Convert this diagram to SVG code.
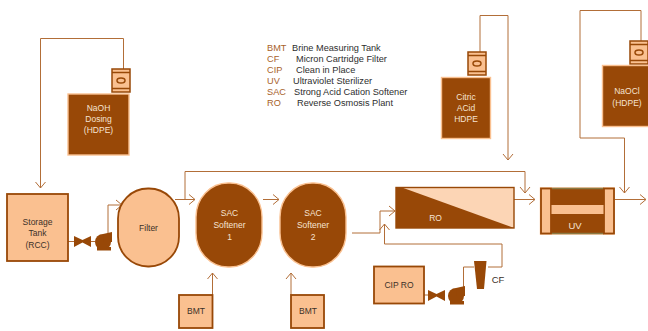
<svg xmlns="http://www.w3.org/2000/svg" width="648" height="331" viewBox="0 0 648 331">
<style>
text{font-family:"Liberation Sans","Open Sans",sans-serif;text-anchor:middle}
.lab{font-size:8.5px;fill:#3b3028}
.wl{font-size:8.5px;fill:#f6e3d2}
.lk{font-size:9.2px;fill:#a8622a;text-anchor:start}
.ld{font-size:9.2px;fill:#2e2e2e;text-anchor:start}
.lt{fill:#fac090;stroke:#984807;stroke-width:1.8}
.dk{fill:#984807;stroke:#fac090;stroke-width:1.4}
.c{fill:none;stroke:#b26e38;stroke-width:1}
.a{fill:none;stroke:#b26e38;stroke-width:1;marker-end:url(#ah)}
.p{fill:#984807}
</style>
<defs>
<marker id="ah" markerUnits="userSpaceOnUse" markerWidth="12" markerHeight="12" refX="9" refY="6" orient="auto"><path d="M3 1L9 6L3 11" fill="none" stroke="#b26e38" stroke-width="1"/></marker>
<g id="drum"><rect x="0" y="0" width="18" height="23" fill="#fac090" stroke="#984807" stroke-width="1.5"/><path d="M0 3.5H18M0 19.5H18" stroke="#984807" stroke-width="1.5"/><ellipse cx="9" cy="11.500" rx="4" ry="2.500" fill="none" stroke="#984807" stroke-width="1.500"/></g>
<g id="valve"><path class="p" d="M0 0L8.500 4L17 0V11L8.500 6.500L0 11Z"/></g>
<g id="pump"><circle cx="8" cy="10" r="8" class="p"/><path class="p" d="M8 2L17 0V10H9ZM2 15H16V18.500H2Z"/></g>
</defs>
<g id="connectors">
<path class="a" d="M123.500 70V38.500H40.500V188"/>
<path class="c" d="M68 241.500H95"/>
<path class="a" d="M108 233V205H122"/>
<path class="a" d="M175 199.500H195"/>
<path class="a" d="M185 199V171.500H525V193"/>
<path class="a" d="M263 199.500H279"/>
<path class="a" d="M212.500 295V273"/>
<path class="a" d="M291 295V273"/>
<path class="a" d="M352 233H380V211H395"/>
<path class="a" d="M502 267V244H384.500V224"/>
<path class="c" d="M488 267H502"/>
<path class="c" d="M474 267H463.500V290"/>
<path class="c" d="M424 295H430"/>
<path class="a" d="M514 199.500H535"/>
<path class="a" d="M614 199.500H646"/>
<path class="a" d="M480 52V15.500H508V160"/>
<path class="a" d="M641 41V10.500H580V138H624.500V193"/>
</g>
<g id="legend">
<text class="lk" x="267" y="51">BMT</text><text class="ld" x="292" y="51">Brine Measuring Tank</text>
<text class="lk" x="267" y="62">CF</text><text class="ld" x="296" y="62">Micron Cartridge Filter</text>
<text class="lk" x="267" y="73">CIP</text><text class="ld" x="296" y="73">Clean in Place</text>
<text class="lk" x="267" y="84">UV</text><text class="ld" x="293" y="84">Ultraviolet Sterilizer</text>
<text class="lk" x="267" y="95">SAC</text><text class="ld" x="294" y="95">Strong Acid Cation Softener</text>
<text class="lk" x="267" y="106">RO</text><text class="ld" x="297" y="106">Reverse Osmosis Plant</text>
</g>
<g id="naoh-drum"><use href="#drum" x="112" y="69"/></g>
<g id="naoh"><rect class="dk" x="68" y="94" width="61" height="61"/><text class="wl" x="98.500" y="111">NaOH</text><text class="wl" x="98.500" y="122">Dosing</text><text class="wl" x="98.500" y="133">(HDPE)</text></g>
<g id="storage"><rect class="lt" x="7" y="194" width="61" height="67"/><text class="lab" x="37.500" y="225">Storage</text><text class="lab" x="37.500" y="236">Tank</text><text class="lab" x="37.500" y="248">(RCC)</text></g>
<g id="valve1"><use href="#valve" x="74" y="236"/></g>
<g id="pump1"><use href="#pump" x="95" y="232"/></g>
<g id="filter"><rect class="lt" x="118" y="188.500" width="61" height="78" rx="30" ry="30"/><text class="lab" x="148.500" y="231">Filter</text></g>
<g id="sac1"><rect class="dk" x="196" y="183" width="66" height="84" rx="32" ry="34"/><text class="wl" x="229.500" y="216">SAC</text><text class="wl" x="229.500" y="228">Softener</text><text class="wl" x="229.500" y="240">1</text></g>
<g id="sac2"><rect class="dk" x="280" y="183" width="66" height="84" rx="32" ry="34"/><text class="wl" x="313" y="216">SAC</text><text class="wl" x="313" y="228">Softener</text><text class="wl" x="313" y="240">2</text></g>
<g id="bmt1"><rect class="lt" x="179" y="295" width="33.500" height="33"/><text class="lab" x="196" y="314">BMT</text></g>
<g id="bmt2"><rect class="lt" x="291" y="295" width="33" height="33"/><text class="lab" x="308" y="314">BMT</text></g>
<g id="ro"><rect x="396" y="187.500" width="118" height="40.500" fill="#fcd5b5" stroke="#984807" stroke-width="1.400"/><path class="p" d="M396 187.500H402L514 228H396Z"/><text class="wl" x="435.500" y="221">RO</text></g>
<g id="uv"><rect class="dk" x="540.500" y="188" width="73.500" height="46"/><path d="M552 188.500H604M552 233.500H604" stroke="#8a7a45" stroke-width="1.500"/><rect class="lt" x="541" y="188.500" width="10" height="45"/><rect class="lt" x="604" y="188.500" width="10" height="45"/><rect x="551.500" y="205" width="52" height="9" fill="#fac090"/><text class="wl" x="575" y="229" style="font-size:9.500px">UV</text></g>
<g id="cip"><rect class="lt" x="374" y="266.500" width="50" height="37"/><text class="lab" x="399" y="288">CIP RO</text></g>
<g id="valve2"><use href="#valve" x="428" y="290"/></g>
<g id="pump2"><use href="#pump" x="448" y="286"/></g>
<g id="cf"><path class="p" d="M474 261H486.500L484 289H477Z"/><text class="lab" x="498" y="283" style="font-size:9.500px">CF</text></g>
<g id="citric-drum"><use href="#drum" x="468" y="52"/></g>
<g id="citric"><rect class="dk" x="441.500" y="77.500" width="49" height="61"/><text class="wl" x="466" y="100">Citric</text><text class="wl" x="466" y="111">ACid</text><text class="wl" x="466" y="122">HDPE</text></g>
<g id="naocl-drum"><use href="#drum" x="630" y="41"/></g>
<g id="naocl"><rect class="dk" x="602.500" y="65.500" width="47" height="61"/><text class="wl" x="627" y="94">NaOCl</text><text class="wl" x="627" y="106">(HDPE)</text></g>
</svg>
